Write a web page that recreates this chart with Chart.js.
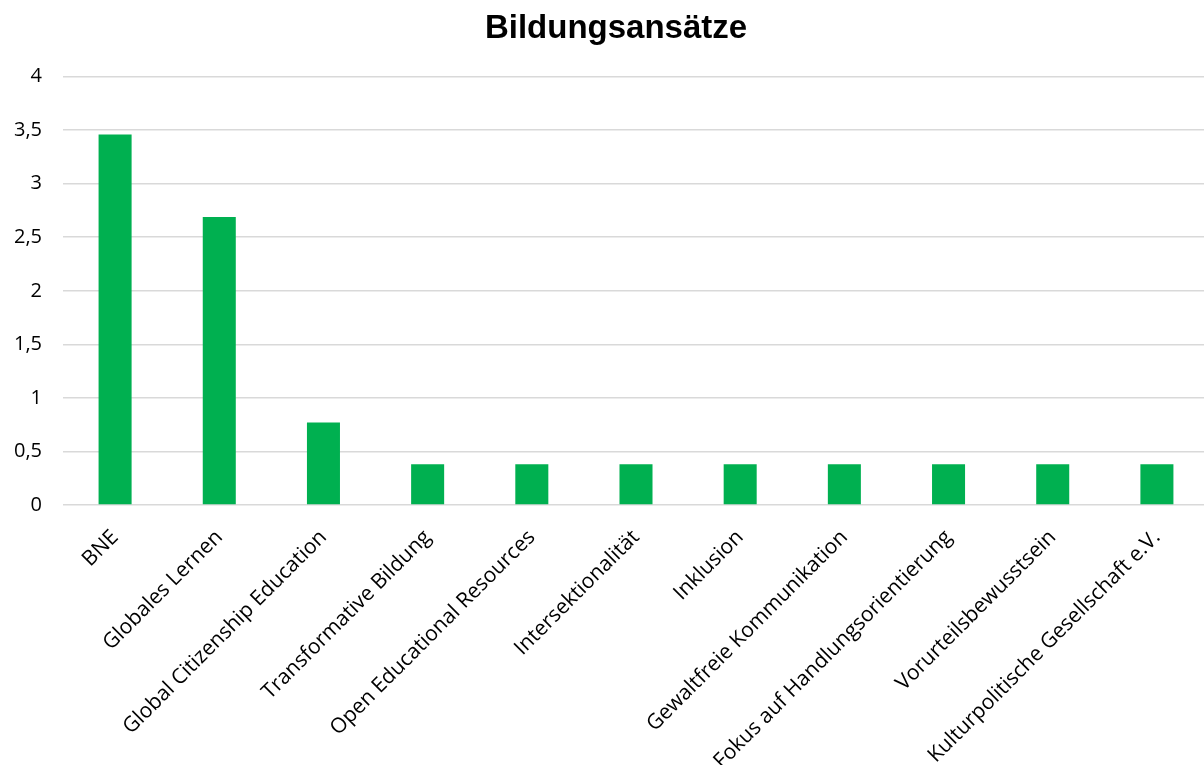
<!DOCTYPE html>
<html>
<head>
<meta charset="utf-8">
<script src="https://cdn.jsdelivr.net/npm/chart.js@4"></script>
<style>
html, body { margin: 0; padding: 0; background: #fff; overflow: hidden; width: 1204px; height: 765px; }
canvas { display: block; }
</style>
</head>
<body>
<canvas id="bildungChart" width="1233" height="765"></canvas>
<script>
// Bildungsansätze - Werte
const categories = [
  "BNE",
  "Globales Lernen",
  "Global Citizenship Education",
  "Transformative Bildung",
  "Open Educational Resources",
  "Intersektionalität",
  "Inklusion",
  "Gewaltfreie Kommunikation",
  "Fokus auf Handlungsorientierung",
  "Vorurteilsbewusstsein",
  "Kulturpolitische Gesellschaft e.V."
];
const values = [3.46, 2.69, 0.77, 0.38, 0.38, 0.38, 0.38, 0.38, 0.38, 0.38, 0.38];
const yTicks = [0, 0.5, 1, 1.5, 2, 2.5, 3, 3.5, 4];

// title in the original is a bit right of the canvas centre
const titleShift = {
  id: "titleShift",
  afterLayout(chart) {
    if (chart.titleBlock) chart.titleBlock.left += 23;
  }
};

let ctx = document.getElementById("bildungChart").getContext("2d");

let chart = new Chart(ctx, {
  type: "bar",
  data: {
    labels: categories,
    datasets: [{
      label: "Bildungsansätze",
      data: values,
      backgroundColor: "#00B050",
      borderWidth: 0,
      barPercentage: 0.317,
      categoryPercentage: 1
    }]
  },
  options: {
    responsive: false,
    animation: false,
    devicePixelRatio: 1,
    layout: { padding: { left: 0, right: 24, top: 0, bottom: 0 } },
    plugins: {
      legend: { display: false },
      tooltip: { enabled: false },
      title: {
        display: true,
        text: "Bildungsansätze",
        color: "#000",
        font: { family: "'Liberation Sans', Arial, sans-serif", size: 33, weight: "bold" },
        padding: { top: 9, bottom: 28 }
      }
    },
    scales: {
      x: {
        grid: { display: false, drawTicks: false },
        border: { display: false },
        ticks: {
          color: "#000",
          font: { family: "'Open Sans', sans-serif", size: 21 },
          autoSkip: false,
          minRotation: 45,
          maxRotation: 45,
          padding: 20
        },
        afterFit: (scale) => { scale.height = 260; }
      },
      y: {
        min: 0,
        max: 4,
        afterBuildTicks: (scale) => { scale.ticks = yTicks.map(v => ({ value: v })); },
        grid: { color: "#d9d9d9", lineWidth: 1.5, drawTicks: false },
        border: { display: false },
        ticks: {
          color: "#000",
          font: { family: "'Open Sans', sans-serif", size: 20 },
          padding: 21,
          callback: (v) => String(v).replace(".", ",")
        },
        afterFit: (scale) => { scale.width = 63; }
      }
    }
  },
  plugins: [titleShift]
});
</script>
</body>
</html>
